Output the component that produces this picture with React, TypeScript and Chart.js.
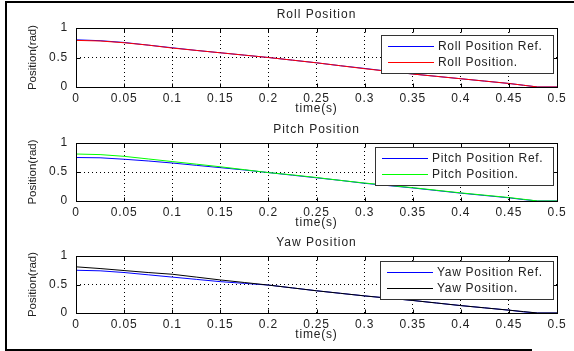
import React, { useEffect, useRef } from "react";
import { Chart, registerables } from "chart.js";

Chart.register(...registerables);

// ---- data ----
const timeS = [0, 0.025, 0.05, 0.075, 0.1, 0.125, 0.15, 0.175, 0.2, 0.225, 0.25, 0.275, 0.3, 0.325, 0.35, 0.375, 0.4, 0.425, 0.45, 0.465, 0.48, 0.5];

const rollRef = [0.8, 0.785, 0.755, 0.71, 0.665, 0.62, 0.58, 0.54, 0.5, 0.455, 0.41, 0.36, 0.315, 0.265, 0.22, 0.18, 0.14, 0.1, 0.06, 0.03, 0.0, 0.0];
const rollPos = [0.79, 0.78, 0.75, 0.71, 0.66, 0.62, 0.58, 0.54, 0.5, 0.455, 0.41, 0.36, 0.31, 0.265, 0.22, 0.18, 0.14, 0.1, 0.06, 0.03, 0.0, 0.0];

const pitchRef = [0.75, 0.745, 0.72, 0.69, 0.655, 0.615, 0.575, 0.535, 0.49, 0.445, 0.4, 0.355, 0.305, 0.265, 0.225, 0.18, 0.135, 0.095, 0.055, 0.025, 0.0, 0.0];
const pitchPos = [0.81, 0.8, 0.77, 0.725, 0.68, 0.635, 0.59, 0.54, 0.49, 0.45, 0.405, 0.355, 0.31, 0.27, 0.23, 0.185, 0.14, 0.1, 0.06, 0.03, 0.0, 0.0];

const yawRef = [0.75, 0.74, 0.71, 0.67, 0.63, 0.59, 0.55, 0.52, 0.49, 0.44, 0.39, 0.345, 0.3, 0.26, 0.22, 0.175, 0.13, 0.09, 0.05, 0.02, 0.0, 0.0];
const yawPos = [0.81, 0.78, 0.745, 0.71, 0.68, 0.63, 0.58, 0.535, 0.49, 0.44, 0.39, 0.345, 0.3, 0.26, 0.22, 0.175, 0.13, 0.09, 0.05, 0.025, 0.0, 0.0];

const xTickMin = 0;
const xTickMax = 0.5;
const xTickStep = 0.05;
const yTickMin = 0;
const yTickMax = 1;
const yTickStep = 0.5;

const xAxisTitle = "time(s)";
const yAxisTitle = "Position(rad)";

// ---- layout / style ----
const W = 574;
const H = 351;
const FONT = "'Liberation Sans', Arial, Helvetica, sans-serif";
const TEXT = "#222222";
const PLOT_LEFT = 76;
const PLOT_RIGHT = 557;
const X_AXIS_H = 30;

type Panel = {
  title: string;
  refLabel: string;
  posLabel: string;
  ref: number[];
  pos: number[];
  refColor: string;
  posColor: string;
  sliceTop: number;
  sliceBottom: number;
  top: number;
  bottom: number;
  legendTop: number;
};

const panels: Panel[] = [
  { title: "Roll Position", refLabel: "Roll Position Ref.", posLabel: "Roll Position.", ref: rollRef, pos: rollPos, refColor: "#0000ff", posColor: "#ff0000", sliceTop: 0, sliceBottom: 118, top: 28, bottom: 87, legendTop: 35 },
  { title: "Pitch Position", refLabel: "Pitch Position Ref.", posLabel: "Pitch Position.", ref: pitchRef, pos: pitchPos, refColor: "#0000ff", posColor: "#00ff00", sliceTop: 118, sliceBottom: 232, top: 143, bottom: 201, legendTop: 147 },
  { title: "Yaw Position", refLabel: "Yaw Position Ref.", posLabel: "Yaw Position.", ref: yawRef, pos: yawPos, refColor: "#0000ff", posColor: "#000000", sliceTop: 232, sliceBottom: 351, top: 256, bottom: 313, legendTop: 261 },
];

const fmtTick = (v: number | string) => String(Number(Number(v).toFixed(2)));

function makePlugin(p: Panel) {
  const refColor = p.refColor;
  const posColor = p.posColor;
  const legendTop = p.legendTop - p.sliceTop;
  return {
    id: "matlab",
    beforeDraw(chart: any) {
      (chart.ctx as any).letterSpacing = "0.8px";
    },
    afterDatasetsDraw(chart: any) {
      const ctx = chart.ctx as CanvasRenderingContext2D;
      const a = chart.chartArea;
      const xs = chart.scales.x;
      const ys = chart.scales.y;
      ctx.save();
      ctx.setLineDash([]);
      ctx.globalAlpha = 1;
      ctx.strokeStyle = "#000000";
      ctx.lineWidth = 1;
      const L = Math.round(a.left) + 0.5;
      const R = Math.round(a.right) + 0.5;
      const T = Math.round(a.top) + 0.5;
      const B = Math.round(a.bottom) + 0.5;
      ctx.strokeRect(L, T, R - L, B - T);
      // inner ticks
      ctx.beginPath();
      xs.ticks.forEach((t: any) => {
        const px = Math.round(xs.getPixelForValue(t.value)) + 0.5;
        ctx.moveTo(px, B);
        ctx.lineTo(px, B - 4);
        ctx.moveTo(px, T);
        ctx.lineTo(px, T + 4);
      });
      ys.ticks.forEach((t: any) => {
        const py = Math.round(ys.getPixelForValue(t.value)) + 0.5;
        ctx.moveTo(L, py);
        ctx.lineTo(L + 4, py);
        ctx.moveTo(R, py);
        ctx.lineTo(R - 4, py);
      });
      ctx.stroke();

      // subplot title
      (ctx as any).letterSpacing = "1px";
      ctx.font = `12px ${FONT}`;
      ctx.fillStyle = TEXT;
      ctx.textAlign = "center";
      ctx.textBaseline = "middle";
      ctx.fillText(p.title, (a.left + a.right) / 2, a.top - 13);

      // x axis title
      (ctx as any).letterSpacing = "0.8px";
      ctx.fillText(xAxisTitle, (a.left + a.right) / 2, a.bottom + 22);

      // y axis title
      ctx.save();
      (ctx as any).letterSpacing = "0px";
      ctx.font = `11.5px ${FONT}`;
      ctx.translate(33, (a.top + a.bottom) / 2);
      ctx.rotate(-Math.PI / 2);
      ctx.fillText(yAxisTitle, 0, 0);
      ctx.restore();

      // legend
      (ctx as any).letterSpacing = "0.7px";
      ctx.font = `12px ${FONT}`;
      const tw = Math.max(ctx.measureText(p.refLabel).width, ctx.measureText(p.posLabel).width);
      const bw = Math.round(57 + tw + 10);
      const bh = 38;
      const bx = Math.round(a.right) - 4 - bw;
      const by = legendTop;
      ctx.fillStyle = "#ffffff";
      ctx.fillRect(bx, by, bw, bh);
      ctx.strokeStyle = "#333333";
      ctx.lineWidth = 1;
      ctx.strokeRect(bx + 0.5, by + 0.5, bw, bh);

      ctx.lineWidth = 1;
      ctx.strokeStyle = refColor;
      ctx.beginPath();
      ctx.moveTo(bx + 7, by + 11.5);
      ctx.lineTo(bx + 53, by + 11.5);
      ctx.stroke();

      ctx.strokeStyle = posColor;
      ctx.beginPath();
      ctx.moveTo(bx + 7, by + 27.5);
      ctx.lineTo(bx + 53, by + 27.5);
      ctx.stroke();

      ctx.fillStyle = TEXT;
      ctx.textAlign = "left";
      ctx.textBaseline = "middle";
      ctx.fillText(p.refLabel, bx + 57, by + 12);
      ctx.fillText(p.posLabel, bx + 57, by + 28);
      ctx.restore();
    },
  };
}

function makeConfig(p: Panel): any {
  const toPts = (vals: number[]) => timeS.map((t, i) => ({ x: t, y: vals[i] }));
  const sliceH = p.sliceBottom - p.sliceTop;
  return {
    type: "line",
    data: {
      datasets: [
        { label: p.posLabel, data: toPts(p.pos), borderColor: p.posColor, borderWidth: 1, pointRadius: 0, tension: 0, fill: false },
        { label: p.refLabel, data: toPts(p.ref), borderColor: p.refColor, borderWidth: 1, pointRadius: 0, tension: 0, fill: false },
      ],
    },
    options: {
      responsive: false,
      animation: false,
      devicePixelRatio: 1,
      layout: {
        padding: { left: 0, right: W - PLOT_RIGHT, top: p.top - p.sliceTop, bottom: sliceH - (p.bottom - p.sliceTop) - X_AXIS_H },
      },
      plugins: {
        legend: { display: false },
        title: { display: false },
        tooltip: { enabled: false },
      },
      scales: {
        x: {
          type: "linear",
          min: xTickMin,
          max: xTickMax,
          afterFit: (s: any) => {
            s.height = X_AXIS_H;
          },
          ticks: {
            stepSize: xTickStep,
            color: TEXT,
            padding: 4,
            maxRotation: 0,
            autoSkip: false,
            font: { family: FONT, size: 12 },
            callback: (v: any) => fmtTick(v),
          },
          grid: { color: "#000000", lineWidth: 1, drawTicks: false },
          border: { display: false, dash: [1, 3] },
          title: { display: false },
        },
        y: {
          type: "linear",
          min: yTickMin,
          max: yTickMax,
          afterFit: (s: any) => {
            s.width = PLOT_LEFT;
          },
          ticks: {
            stepSize: yTickStep,
            color: TEXT,
            padding: 8,
            font: { family: FONT, size: 12 },
            callback: (v: any) => fmtTick(v),
          },
          grid: { color: "#000000", lineWidth: 1, drawTicks: false },
          border: { display: false, dash: [1, 3] },
          title: { display: false },
        },
      },
    },
    plugins: [makePlugin(p)],
  };
}

export default function App() {
  const r0 = useRef<HTMLCanvasElement>(null);
  const r1 = useRef<HTMLCanvasElement>(null);
  const r2 = useRef<HTMLCanvasElement>(null);
  const refs = [r0, r1, r2];

  useEffect(() => {
    const charts = panels.map((p, i) => new Chart(refs[i].current as HTMLCanvasElement, makeConfig(p)));
    return () => charts.forEach((c) => c.destroy());
  }, []);

  return (
    <div style={{ position: "absolute", left: 0, top: 0, width: W, height: H, background: "#ffffff", overflow: "hidden" }}>
      {panels.map((p, i) => (
        <canvas
          key={p.title}
          ref={refs[i]}
          width={W}
          height={p.sliceBottom - p.sliceTop}
          style={{ position: "absolute", left: 0, top: p.sliceTop, width: W, height: p.sliceBottom - p.sliceTop, display: "block" }}
        />
      ))}
      <div style={{ position: "absolute", left: 5, top: 1, width: 569, height: 2, background: "#000" }} />
      <div style={{ position: "absolute", left: 5, top: 1, width: 2, height: 350, background: "#000" }} />
      <div style={{ position: "absolute", left: 5, top: 349, width: 527, height: 2, background: "#000" }} />
    </div>
  );
}
